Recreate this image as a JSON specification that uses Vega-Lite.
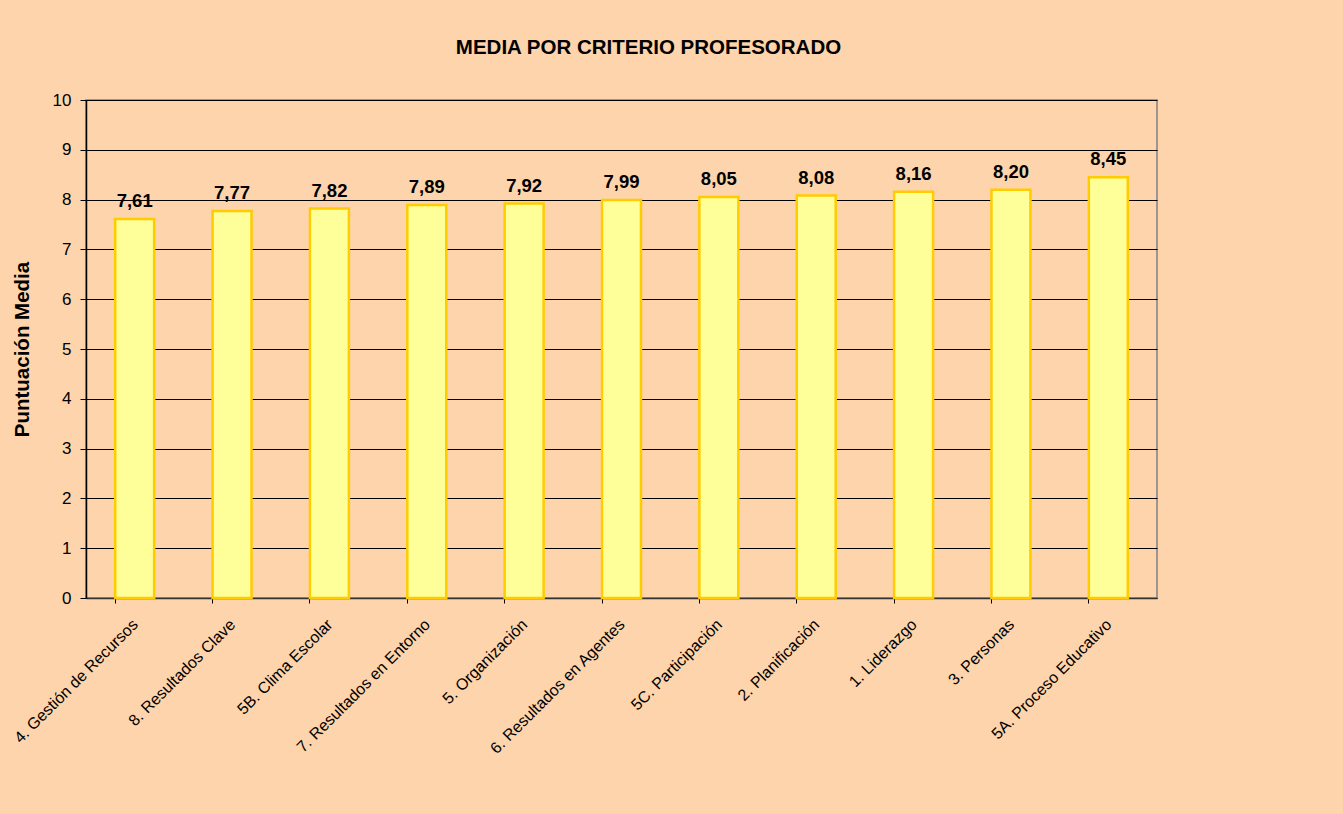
{
  "$schema": "https://vega.github.io/schema/vega-lite/v6.json",
  "width": 1071,
  "height": 498,
  "autosize": {"type": "none"},
  "padding": {"left": 86, "top": 100, "right": 186, "bottom": 216},
  "background": "#FDD4AC",
  "title": {
    "text": "MEDIA POR CRITERIO PROFESORADO",
    "font": "Liberation Sans",
    "fontSize": 20.5,
    "fontWeight": "bold",
    "color": "#000000",
    "anchor": "middle",
    "dx": 27,
    "offset": 33
  },
  "config": {
    "locale": {"number": {"decimal": ",", "thousands": ".", "grouping": [3], "currency": ["", " €"]}},
    "view": {"stroke": "#808080", "strokeWidth": 1.5},
    "font": "Liberation Sans"
  },
  "data": {
    "values": [
      {"criterio": "4. Gestión de Recursos", "media": 7.61},
      {"criterio": "8. Resultados Clave", "media": 7.77},
      {"criterio": "5B. Clima Escolar", "media": 7.82},
      {"criterio": "7. Resultados en Entorno", "media": 7.89},
      {"criterio": "5. Organización", "media": 7.92},
      {"criterio": "6. Resultados en Agentes", "media": 7.99},
      {"criterio": "5C. Participación", "media": 8.05},
      {"criterio": "2. Planificación", "media": 8.08},
      {"criterio": "1. Liderazgo", "media": 8.16},
      {"criterio": "3. Personas", "media": 8.20},
      {"criterio": "5A. Proceso Educativo", "media": 8.45}
    ]
  },
  "encoding": {
    "x": {
      "field": "criterio",
      "type": "nominal",
      "sort": null,
      "scale": {"paddingInner": 0.6, "paddingOuter": 0.3},
      "axis": {
        "title": null,
        "labelAngle": -45,
        "labelAlign": "right",
        "labelBaseline": "top",
        "labelFontSize": 16,
        "labelColor": "#000000",
        "labelPadding": 13,
        "labelOffset": -5,
        "labelLimit": 0,
        "bandPosition": 0,
        "tickColor": "#000000",
        "tickSize": 5,
        "domainColor": "#333333",
        "domainWidth": 1.5,
        "grid": false
      }
    },
    "y": {
      "field": "media",
      "type": "quantitative",
      "scale": {"domain": [0, 10], "nice": false},
      "axis": {
        "title": "Puntuación Media",
        "titleFontSize": 20.5,
        "titleFontWeight": "bold",
        "titleColor": "#000000",
        "titlePadding": 20,
        "values": [0, 1, 2, 3, 4, 5, 6, 7, 8, 9, 10],
        "labelFontSize": 17,
        "labelColor": "#000000",
        "labelPadding": 9,
        "tickColor": "#000000",
        "tickSize": 6,
        "domainColor": "#000000",
        "domainWidth": 1.5,
        "grid": true,
        "gridColor": "#000000",
        "gridWidth": 1,
        "gridOpacity": 1
      }
    }
  },
  "layer": [
    {
      "mark": {"type": "bar", "fill": "#FFFF99", "stroke": "#FFCC00", "strokeWidth": 2.5}
    },
    {
      "mark": {"type": "text", "baseline": "bottom", "dy": -8, "fontSize": 18.5, "fontWeight": "bold", "color": "#000000"},
      "encoding": {
        "text": {"field": "media", "type": "quantitative", "format": ".2f"}
      }
    }
  ]
}
